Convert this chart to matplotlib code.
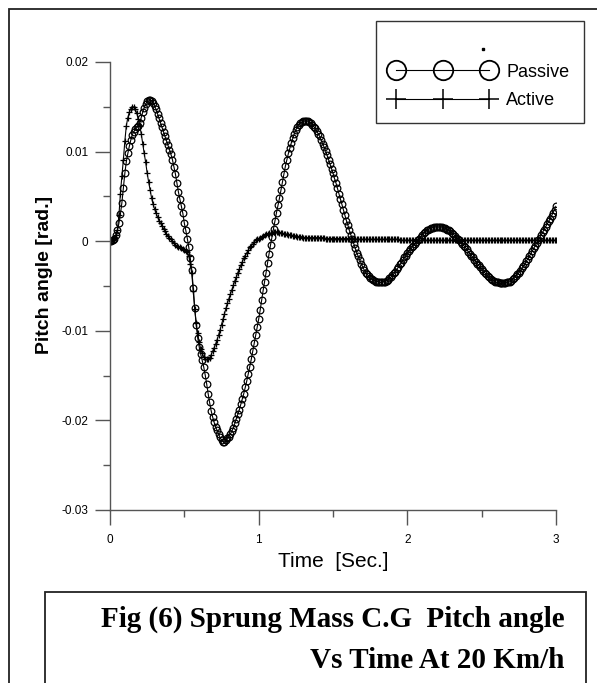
import numpy as np
import matplotlib
matplotlib.use("Agg")
import matplotlib.pyplot as plt
from matplotlib.lines import Line2D
from matplotlib.patches import Rectangle

plt.rcParams["font.family"] = ["Liberation Sans", "DejaVu Sans"]

# time grid, 0 .. 3 s every 0.01 s
time_s = np.linspace(0.0, 3.0, 301)

# pitch angle in milli-rad (one row = 0.1 s)
passive_mrad = [
    0.0, 0.0, 0.1, 0.3, 0.7, 1.2, 2.0, 3.0, 4.3, 5.9,
    7.6, 8.9, 9.8, 10.6, 11.3, 11.9, 12.2, 12.5, 12.7, 12.9,
    13.2, 13.8, 14.4, 14.9, 15.3, 15.6, 15.8, 15.8, 15.7, 15.4,
    15.1, 14.7, 14.2, 13.7, 13.2, 12.7, 12.2, 11.7, 11.2, 10.7,
    10.2, 9.7, 9.1, 8.3, 7.5, 6.5, 5.5, 4.7, 3.9, 3.1,
    2.0, 1.2, 0.3, -0.7, -1.9, -3.2, -5.2, -7.5, -9.4, -10.8,
    -11.8, -12.6, -13.3, -14.0, -14.9, -15.9, -17.0, -18.0, -18.9, -19.6,
    -20.2, -20.7, -21.1, -21.5, -21.9, -22.2, -22.4, -22.4, -22.2, -22.0,
    -21.8, -21.5, -21.2, -20.8, -20.3, -19.8, -19.3, -18.8, -18.2, -17.6,
    -17.0, -16.3, -15.6, -14.8, -14.0, -13.2, -12.3, -11.4, -10.5, -9.6,
    -8.7, -7.7, -6.6, -5.5, -4.5, -3.5, -2.4, -1.4, -0.4, 0.5,
    1.4, 2.3, 3.2, 4.0, 4.8, 5.7, 6.6, 7.5, 8.4, 9.1,
    9.8, 10.4, 11.0, 11.5, 12.0, 12.4, 12.8, 13.0, 13.2, 13.3,
    13.4, 13.4, 13.4, 13.4, 13.3, 13.2, 13.0, 12.8, 12.6, 12.3,
    12.0, 11.7, 11.3, 10.9, 10.5, 10.1, 9.6, 9.1, 8.6, 8.1,
    7.6, 7.0, 6.5, 5.9, 5.3, 4.7, 4.1, 3.5, 2.9, 2.3,
    1.8, 1.2, 0.7, 0.2, -0.3, -0.8, -1.3, -1.7, -2.1, -2.5,
    -2.9, -3.2, -3.5, -3.7, -3.9, -4.1, -4.2, -4.3, -4.4, -4.5,
    -4.5, -4.6, -4.6, -4.6, -4.5, -4.5, -4.4, -4.3, -4.1, -4.0,
    -3.8, -3.6, -3.4, -3.1, -2.9, -2.6, -2.4, -2.1, -1.8, -1.6,
    -1.3, -1.1, -0.9, -0.7, -0.5, -0.3, -0.1, 0.1, 0.3, 0.5,
    0.7, 0.9, 1.0, 1.2, 1.3, 1.4, 1.5, 1.5, 1.6, 1.6,
    1.6, 1.6, 1.6, 1.6, 1.5, 1.5, 1.4, 1.3, 1.2, 1.1,
    0.9, 0.8, 0.6, 0.4, 0.3, 0.1, -0.1, -0.3, -0.5, -0.7,
    -0.9, -1.2, -1.4, -1.6, -1.8, -2.1, -2.3, -2.5, -2.7, -2.9,
    -3.1, -3.3, -3.5, -3.7, -3.9, -4.0, -4.2, -4.3, -4.4, -4.5,
    -4.6, -4.6, -4.7, -4.7, -4.7, -4.7, -4.7, -4.6, -4.6, -4.5,
    -4.4, -4.2, -4.1, -3.9, -3.7, -3.5, -3.3, -3.0, -2.8, -2.5,
    -2.2, -2.0, -1.7, -1.4, -1.1, -0.8, -0.5, -0.2, 0.1, 0.4,
    0.7, 1.0, 1.3, 1.6, 1.9, 2.2, 2.5, 2.8, 3.2, 3.5,
    3.9,
]

active_mrad = [
    0.0, 0.0, 0.1, 0.3, 0.7, 1.3, 2.9, 5.3, 7.3, 9.1,
    11.2, 12.9, 13.8, 14.4, 14.8, 15.0, 15.0, 14.7, 14.3, 13.6,
    12.9, 12.0, 10.9, 9.8, 8.8, 7.6, 6.6, 5.7, 4.8, 4.1,
    3.6, 3.1, 2.7, 2.3, 2.0, 1.7, 1.4, 1.1, 0.8, 0.6,
    0.4, 0.2, 0.0, -0.2, -0.4, -0.5, -0.6, -0.7, -0.8, -0.9,
    -1.0, -1.1, -1.2, -1.6, -2.6, -3.6, -5.6, -7.6, -9.1, -10.3,
    -11.3, -12.0, -12.5, -12.9, -13.1, -13.2, -13.2, -13.0, -12.7, -12.3,
    -11.9, -11.5, -11.0, -10.5, -9.9, -9.3, -8.7, -8.1, -7.5, -6.9,
    -6.4, -5.9, -5.4, -4.9, -4.4, -4.0, -3.5, -3.1, -2.7, -2.3,
    -1.9, -1.6, -1.3, -1.0, -0.7, -0.5, -0.3, -0.1, 0.1, 0.2,
    0.3, 0.4, 0.5, 0.6, 0.7, 0.8, 0.8, 0.9, 0.9, 0.9,
    1.0, 1.0, 1.0, 1.0, 0.9, 0.9, 0.9, 0.8, 0.8, 0.8,
    0.7, 0.7, 0.7, 0.6, 0.6, 0.6, 0.5, 0.5, 0.5, 0.5,
    0.4, 0.4, 0.4, 0.4, 0.4, 0.4, 0.4, 0.4, 0.4, 0.4,
    0.4, 0.4, 0.4, 0.4, 0.4, 0.3, 0.3, 0.3, 0.3, 0.3,
    0.3, 0.3, 0.3, 0.3, 0.3, 0.3, 0.3, 0.3, 0.3, 0.3,
    0.3, 0.3, 0.3, 0.3, 0.2, 0.2, 0.2, 0.2, 0.2, 0.2,
    0.2, 0.2, 0.2, 0.2, 0.2, 0.2, 0.2, 0.2, 0.2, 0.2,
    0.2, 0.2, 0.2, 0.2, 0.2, 0.2, 0.2, 0.2, 0.2, 0.2,
    0.2, 0.2, 0.2, 0.2, 0.2, 0.1, 0.1, 0.1, 0.1, 0.1,
    0.1, 0.1, 0.1, 0.1, 0.1, 0.1, 0.1, 0.1, 0.1, 0.1,
    0.1, 0.1, 0.1, 0.1, 0.1, 0.1, 0.1, 0.1, 0.1, 0.1,
    0.1, 0.1, 0.1, 0.1, 0.1, 0.1, 0.1, 0.1, 0.1, 0.1,
    0.1, 0.1, 0.1, 0.1, 0.1, 0.1, 0.1, 0.1, 0.1, 0.1,
    0.1, 0.1, 0.1, 0.1, 0.1, 0.1, 0.1, 0.1, 0.1, 0.1,
    0.1, 0.1, 0.1, 0.1, 0.1, 0.1, 0.1, 0.1, 0.1, 0.1,
    0.1, 0.1, 0.1, 0.1, 0.1, 0.1, 0.1, 0.1, 0.1, 0.1,
    0.1, 0.1, 0.1, 0.1, 0.1, 0.1, 0.1, 0.1, 0.1, 0.1,
    0.1, 0.1, 0.1, 0.1, 0.1, 0.1, 0.1, 0.1, 0.1, 0.1,
    0.1, 0.1, 0.1, 0.1, 0.1, 0.1, 0.1, 0.1, 0.1, 0.1,
    0.1,
]

x_ticks = [0, 1, 2, 3]
x_ticklabels = ["0", "1", "2", "3"]
y_ticks = [0.02, 0.01, 0.0, -0.01, -0.02, -0.03]
y_ticklabels = ["0.02", "0.01", "0", "-0.01", "-0.02", "-0.03"]
series_labels = ["Passive", "Active"]

passive = np.array(passive_mrad) * 1e-3
active = np.array(active_mrad) * 1e-3

W, H = 597, 683
fig = plt.figure(figsize=(W / 100, H / 100), dpi=100)

# outer frame (runs off the right and bottom of the picture)
fig.add_artist(Rectangle((9 / W, -0.2), 1.2, 1 - 9 / H + 0.2, transform=fig.transFigure,
                         fill=False, edgecolor="#222222", lw=1.3, clip_on=False))

ax = fig.add_axes([110 / W, (H - 510) / H, 446 / W, 448 / H])

ax.plot(time_s, passive, color="black", lw=0.8, marker="o", ms=4.8,
        mfc="none", mec="black", mew=0.9, label=series_labels[0])
ax.plot(time_s, active, color="black", lw=0.8, marker="+", ms=4.8,
        mew=0.9, label=series_labels[1])

ax.set_xlim(0, 3)
ax.set_ylim(-0.03, 0.02)

for side in ["top", "right"]:
    ax.spines[side].set_visible(False)
for side in ["left", "bottom"]:
    ax.spines[side].set_color("#555555")
    ax.spines[side].set_linewidth(1.0)

ax.set_xticks(x_ticks)
ax.set_xticklabels(x_ticklabels)
ax.set_xticks([0.5, 1.5, 2.5], minor=True)
ax.set_yticks(y_ticks)
ax.set_yticklabels(y_ticklabels)
ax.set_yticks([0.015, 0.005, -0.005, -0.015, -0.025], minor=True)

ax.tick_params(which="major", direction="out", length=10.5, width=1.0,
               color="#555555", labelsize=8.5)
ax.tick_params(which="minor", direction="out", length=5, width=1.0, color="#555555")
ax.tick_params(axis="x", which="major", pad=7)
ax.tick_params(axis="y", which="major", pad=5)

ax.set_xlabel("Time  [Sec.]", fontsize=15)
ax.xaxis.set_label_coords(0.5, -0.094)
ax.set_ylabel("Pitch angle [rad.]", fontsize=14, fontweight="bold")
ax.yaxis.set_label_coords(-0.128, 0.525)

# legend: blank first row, then the two series
blank = Line2D([], [], linestyle="none")
h_pas = Line2D([], [], color="black", lw=0.8, marker="o", ms=14, mfc="none", mew=1.3)
h_act = Line2D([], [], color="black", lw=0.8, marker="+", ms=14, mew=1.1)
leg = ax.legend([blank, h_pas, h_act], [" "] + series_labels,
                loc="upper right", bbox_to_anchor=(584 / W, 1 - 21 / H),
                bbox_transform=fig.transFigure, fontsize=13, numpoints=3,
                handlelength=5.8, handletextpad=0.64, borderpad=0.8,
                labelspacing=0.62, borderaxespad=0, fancybox=False, framealpha=1)
leg.get_frame().set_edgecolor("#333333")
leg.get_frame().set_linewidth(1.0)
fig.add_artist(Line2D([483 / W], [1 - 49 / H], marker="s", ms=1.6, color="black",
                      transform=fig.transFigure))

# caption box
fig.add_artist(Rectangle((45 / W, -0.2), 541 / W, 0.2 + (H - 592) / H,
                         transform=fig.transFigure, fill=False,
                         edgecolor="#222222", lw=1.3, clip_on=False))
cap = dict(family="Liberation Serif", fontweight="bold", fontsize=21,
           ha="right", va="baseline")
fig.text(565 / W, 1 - 627 / H, "Fig (6) Sprung Mass C.G  Pitch angle", **cap)
fig.text(565 / W, 1 - 668 / H, "Vs Time At 20 Km/h", **cap)

fig.savefig("out.png", dpi=100)
